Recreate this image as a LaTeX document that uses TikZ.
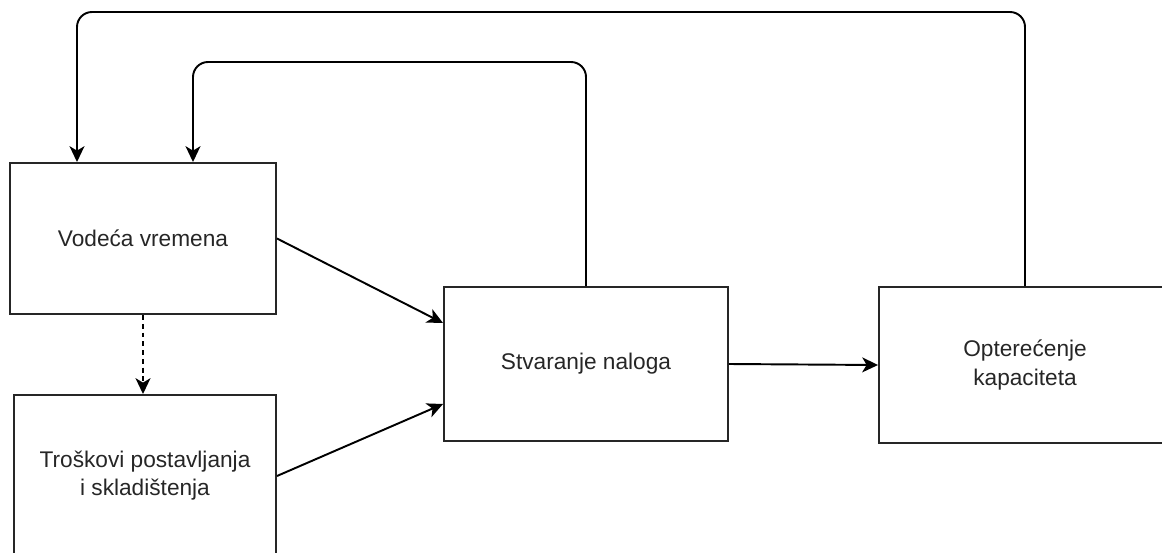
\documentclass[tikz,border=0pt]{standalone}
\usepackage{fontspec}
\setmainfont{Liberation Sans}
\usetikzlibrary{arrows.meta}

\tikzset{
  box/.style={draw=black!85, line width=1.1pt, inner sep=0pt, align=center,
    text=black!85, font=\fontsize{12.9}{16}\selectfont},
  link/.style={draw=black, line width=1.1pt,
    -{Stealth[length=9pt, width=8.5pt, inset=2.5pt]}},
}

\begin{document}
\begin{tikzpicture}
        \useasboundingbox (0,0) rectangle (23.24,-11.06);
        \clip (0,0) rectangle (23.24,-11.06);

        % Define the four blocks
        \node[box, minimum width=5.32cm, minimum height=3.02cm] (vodeca) at (2.86,-4.77) {Vode\'ca vremena};
        \node[box, minimum width=5.24cm, minimum height=3.24cm] (troskovi) at (2.9,-9.52) {Troškovi postavljanja\\i skladištenja};
        \node[box, minimum width=5.68cm, minimum height=3.08cm] (stvaranje) at (11.72,-7.28) {Stvaranje naloga};
        \node[box, minimum width=5.84cm, minimum height=3.12cm] (opterecenje) at (20.5,-7.3) {Optere\'cenje\\kapaciteta};

        % Corners of the feedback loops
        \coordinate (loop1) at (3.86,-1.24);
        \coordinate (loop2) at (1.54,-0.24);

        % Forward connections
        \draw[link] (vodeca.east) -- ([yshift=0.82cm]stvaranje.west);
        \draw[link] (troskovi.east) -- ([yshift=-0.8cm]stvaranje.west);
        \draw[link] (stvaranje.east) -- (opterecenje.west);
        \draw[link, dash pattern=on 2.8pt off 2.2pt] (vodeca.south) -- (vodeca.south |- troskovi.north);

        % Feedback loops
        \draw[link, rounded corners=0.3cm] (stvaranje.north) |- (loop1) -- ([xshift=1cm]vodeca.north);
        \draw[link, rounded corners=0.3cm] (opterecenje.north) |- (loop2) -- ([xshift=-1.32cm]vodeca.north);
\end{tikzpicture}
\end{document}
